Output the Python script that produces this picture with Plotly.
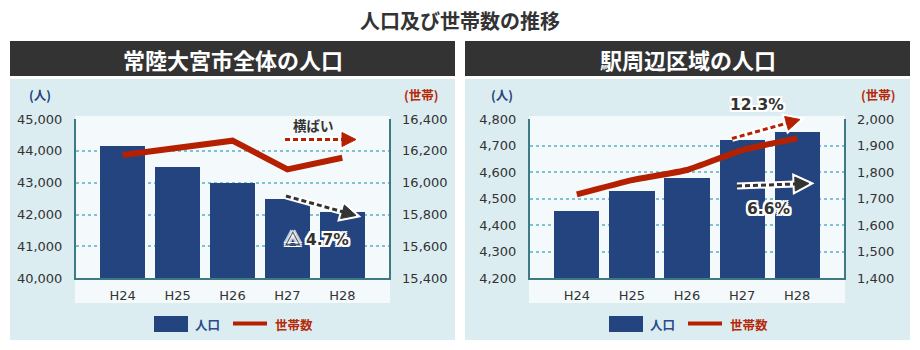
import plotly.graph_objects as go

# ---- data ----
years = ["H24", "H25", "H26", "H27", "H28"]

pop_city = [44150, 43490, 43000, 42490, 42070]      # 人口 (常陸大宮市全体)
hh_city = [16174, 16218, 16264, 16084, 16157]       # 世帯数 (常陸大宮市全体)

pop_station = [4455, 4529, 4579, 4721, 4750]        # 人口 (駅周辺区域)
hh_station = [1716, 1770, 1808, 1883, 1927]         # 世帯数 (駅周辺区域)

city_pop_ticks = [40000, 41000, 42000, 43000, 44000, 45000]
city_hh_ticks = [15400, 15600, 15800, 16000, 16200, 16400]
station_pop_ticks = [4200, 4300, 4400, 4500, 4600, 4700, 4800]
station_hh_ticks = [1400, 1500, 1600, 1700, 1800, 1900, 2000]

title_main = "人口及び世帯数の推移"
panel_titles = ["常陸大宮市全体の人口", "駅周辺区域の人口"]

# ---- styling ----
W, H = 920, 350
NAVY = "#24447f"
RED = "#b52100"
TEAL = "#3d7a83"
GRID = "#7fc2d2"
PANEL = "#dcedf2"
INNER = "#f4fafb"
HEAD = "#333333"
TXT = "#333333"
NUMFONT = "DejaVu Sans, Noto Sans CJK JP, sans-serif"
JPFONT = "Noto Sans CJK JP, sans-serif"
OUTLINE = ("-2px -2px 0 #fff, 2px -2px 0 #fff, -2px 2px 0 #fff, 2px 2px 0 #fff, "
           "0 -2px 0 #fff, 0 2px 0 #fff, -2px 0 0 #fff, 2px 0 0 #fff")


def X(p):
    return p / W


def Y(p):
    return 1 - p / H


fig = go.Figure()

# bars (population) and lines (households)
fig.add_trace(go.Bar(x=years, y=pop_city, marker=dict(color=NAVY, line=dict(width=0)),
                     width=0.82, xaxis="x", yaxis="y", name="人口"))
fig.add_trace(go.Scatter(x=years, y=hh_city, mode="lines", line=dict(color=RED, width=6),
                         xaxis="x", yaxis="y2", name="世帯数"))
fig.add_trace(go.Bar(x=years, y=pop_station, marker=dict(color=NAVY, line=dict(width=0)),
                     width=0.82, xaxis="x2", yaxis="y3", name="人口"))
fig.add_trace(go.Scatter(x=years, y=hh_station, mode="lines",
                         line=dict(color=RED, width=6, shape="spline", smoothing=0.4),
                         xaxis="x2", yaxis="y4", name="世帯数"))

y_dom = [Y(278.3), Y(119)]
tickfont = dict(family=NUMFONT, size=13, color=TXT)


def xaxis_cfg(dom, anchor):
    return dict(domain=dom, anchor=anchor, type="category", range=[-0.85, 4.85],
                showline=True, linecolor=TEAL, linewidth=2, showgrid=False,
                ticks="", tickfont=tickfont, ticklabelstandoff=4, automargin=False)


def yleft_cfg(vals, anchor):
    return dict(domain=y_dom, anchor=anchor, range=[vals[0], vals[-1]],
                tickmode="array", tickvals=vals, tickformat=",",
                showgrid=True, gridcolor=GRID, griddash="dot", gridwidth=2,
                showline=True, linecolor=TEAL, linewidth=2, ticks="",
                tickfont=tickfont, ticklabelstandoff=9, zeroline=False, automargin=False)


def yright_cfg(vals, over, anchor):
    return dict(overlaying=over, side="right", anchor=anchor, range=[vals[0], vals[-1]],
                tickmode="array", tickvals=vals, tickformat=",", showgrid=False,
                showline=True, linecolor=TEAL, linewidth=1.5, ticks="",
                tickfont=tickfont, ticklabelstandoff=9, zeroline=False, automargin=False)


shapes = []
annotations = []

# panels, headers and inner plot backgrounds
for (x0, x1, ix0, ix1) in [(10, 455, 75, 390), (465, 910, 529, 845)]:
    shapes.append(dict(type="rect", xref="paper", yref="paper", x0=X(x0), x1=X(x1),
                       y0=Y(340), y1=Y(79), fillcolor=PANEL, line=dict(width=0), layer="below"))
    shapes.append(dict(type="rect", xref="paper", yref="paper", x0=X(x0), x1=X(x1),
                       y0=Y(76), y1=Y(41), fillcolor=HEAD, line=dict(width=0), layer="below"))
    shapes.append(dict(type="rect", xref="paper", yref="paper", x0=X(ix0), x1=X(ix1),
                       y0=Y(303), y1=Y(116), fillcolor=INNER, line=dict(width=0), layer="below"))

annotations.append(dict(text=title_main, x=X(460), y=Y(20), xref="paper", yref="paper",
                        showarrow=False, xanchor="center", yanchor="middle",
                        font=dict(family=JPFONT, size=20, color=TXT, weight="bold")))
for cx, t in [(232.5, panel_titles[0]), (687.5, panel_titles[1])]:
    annotations.append(dict(text=t, x=X(cx), y=Y(59), xref="paper", yref="paper",
                            showarrow=False, xanchor="center", yanchor="middle",
                            font=dict(family=JPFONT, size=22, color="#ffffff", weight="bold")))

# axis unit labels
for cx, t, c in [(40, "(人)", NAVY), (421, "(世帯)", "#b52a0a"),
                 (501.5, "(人)", NAVY), (877.5, "(世帯)", "#b52a0a")]:
    annotations.append(dict(text=t, x=X(cx), y=Y(95), xref="paper", yref="paper",
                            showarrow=False, xanchor="center", yanchor="middle",
                            font=dict(family=JPFONT, size=12.5, color=c, weight="bold")))

# legends
for (bx, lx) in [(154, 233), (609, 688)]:
    shapes.append(dict(type="rect", xref="paper", yref="paper", x0=X(bx), x1=X(bx + 34),
                       y0=Y(332), y1=Y(316), fillcolor=NAVY, line=dict(width=0)))
    shapes.append(dict(type="line", xref="paper", yref="paper", x0=X(lx), x1=X(lx + 34),
                       y0=Y(323.5), y1=Y(323.5), line=dict(color=RED, width=4)))
    annotations.append(dict(text="人口", x=X(bx + 39), y=Y(324), xref="paper", yref="paper",
                            showarrow=False, xanchor="left", yanchor="middle",
                            font=dict(family=JPFONT, size=12.5, color="#2a4b8d", weight="bold")))
    annotations.append(dict(text="世帯数", x=X(lx + 40), y=Y(324), xref="paper", yref="paper",
                            showarrow=False, xanchor="left", yanchor="middle",
                            font=dict(family=JPFONT, size=12.5, color="#b52a0a", weight="bold")))


def arrow(x0, y0, x1, y1, color, head=14, half=7):
    """Dashed arrow with white outline, pixel coordinates."""
    dx, dy = x1 - x0, y1 - y0
    ln = (dx * dx + dy * dy) ** 0.5
    ux, uy = dx / ln, dy / ln
    bx, by = x1 - ux * head, y1 - uy * head
    px_, py_ = -uy, ux
    p1 = (bx + px_ * half, by + py_ * half)
    p2 = (bx - px_ * half, by - py_ * half)
    path = "M {},{} L {},{} L {},{} Z".format(X(x1), Y(y1), X(p1[0]), Y(p1[1]), X(p2[0]), Y(p2[1]))
    out = [
        dict(type="line", xref="paper", yref="paper", x0=X(x0), y0=Y(y0), x1=X(bx), y1=Y(by),
             line=dict(color="#ffffff", width=7)),
        dict(type="path", xref="paper", yref="paper", path=path, fillcolor="#ffffff",
             line=dict(color="#ffffff", width=5)),
        dict(type="line", xref="paper", yref="paper", x0=X(x0), y0=Y(y0), x1=X(bx + ux), y1=Y(by + uy),
             line=dict(color=color, width=3, dash="5px,3px")),
        dict(type="path", xref="paper", yref="paper", path=path, fillcolor=color,
             line=dict(color=color, width=1)),
    ]
    return out


shapes += arrow(285, 139.5, 356, 139.5, RED)
shapes += arrow(286, 196, 356, 215.5, "#333333")
shapes += arrow(732, 138.5, 800, 119.5, RED)
shapes += arrow(737, 186, 809, 183.5, "#333333")

annotations.append(dict(text="横ばい", x=X(313.5), y=Y(125), xref="paper", yref="paper",
                        showarrow=False, xanchor="center", yanchor="middle",
                        font=dict(family=JPFONT, size=13.5, color=TXT, weight="bold")))
decline = "<span style='font-family:Noto Sans CJK JP'>△</span> 4.7%"
for cx, cy, t in [(316.5, 237.5, decline), (756.5, 105, "12.3%"), (768, 209, "6.6%")]:
    annotations.append(dict(text=t, x=X(cx), y=Y(cy), xref="paper", yref="paper",
                            showarrow=False, xanchor="center", yanchor="middle",
                            font=dict(family=NUMFONT, size=15.5, color=TXT, weight="bold",
                                      shadow=OUTLINE)))

fig.update_layout(
    template="none",
    width=W, height=H, margin=dict(l=0, r=0, t=0, b=0, pad=0, autoexpand=False),
    paper_bgcolor="#ffffff", plot_bgcolor="rgba(0,0,0,0)",
    showlegend=False, bargap=0,
    xaxis=xaxis_cfg([X(76), X(389)], "y"),
    yaxis=yleft_cfg(city_pop_ticks, "x"),
    yaxis2=yright_cfg(city_hh_ticks, "y", "x"),
    xaxis2=xaxis_cfg([X(530), X(844)], "y3"),
    yaxis3=yleft_cfg(station_pop_ticks, "x2"),
    yaxis4=yright_cfg(station_hh_ticks, "y3", "x2"),
    shapes=shapes, annotations=annotations,
)

# the page body gets no margin so the figure fills the window exactly
fig.write_html("out.html", config={"displayModeBar": False, "staticPlot": True},
               post_script="document.body.style.margin='0';document.body.style.padding='0';")
